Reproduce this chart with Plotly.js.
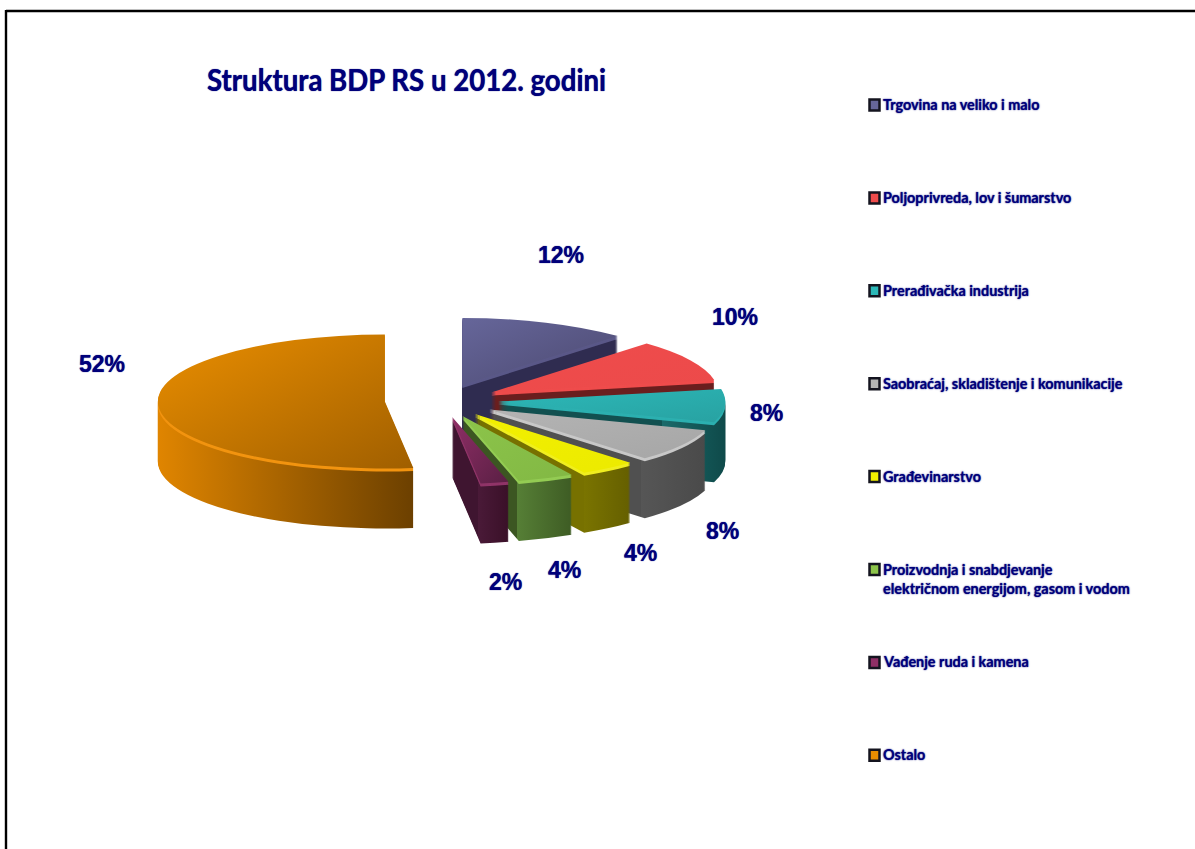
<!DOCTYPE html>
<html><head><meta charset="utf-8">
<script src="https://cdn.plot.ly/plotly-3.0.1.min.js"></script>
<style>html,body{margin:0;padding:0;background:#fff;overflow:hidden}#chart{width:1195px;height:849px}</style>
</head><body><div id="chart"></div>
<script>
var categories = ["Trgovina na veliko i malo","Poljoprivreda, lov i šumarstvo","Prerađivačka industrija","Saobraćaj, skladištenje i komunikacije","Građevinarstvo","Proizvodnja i snabdjevanje<br>električnom energijom, gasom i vodom","Vađenje ruda i kamena","Ostalo"];
var values = [12,10,8,8,4,4,2,52];
var topStart = ["#66669a","#ef4c4c","#2cb8b8","#b4b4b4","#f2f000","#8cc44a","#8f2f66","#ea8e00"];
var topEnd   = ["#4c4970","#ec4a4a","#28a2a2","#a6a6a6","#ecea00","#82b844","#5a1f44","#a05f00"];
var rimColor = ["#5a5888","#ef4c4c","#2cb0b0","#c8c8c8","#f0ee20","#94cc54","#903468","#f29410"];
// side walls: colour at the cut wall, position of the break, outer wall left and right colours
var wallCut   = ["#2f2c50","#6a1e1e","#125050","#505050","#777100","#3c5622","#3f1530","#e08500"];
var wallBreak = [1,1,0.72,0.7,0.7,0.5,0.45,0];
var wallLeft  = ["#2f2c50","#6a1e1e","#1a6a6a","#565656","#7a7400","#567f36","#4a1a38","#e08500"];
var wallRight = ["#2f2c50","#6a1e1e","#0f4a4a","#4a4a4a","#655f00","#3e5c24","#3a1028","#6c4000"];

var W = 1195, H = 849;
var cx = 441.5, cyScreen = 400.5, squash = 0.295;
var rx = 227, pull = 0.25, S = 2 * rx * (1 + pull);
var cyFlat = S / 2 + 6, depth = 60, rimLayers = 3;

function px(x){return x/W;} function py(y){return 1-y/H;}
var traces = [];
for (var k = depth; k >= 0; k--) {
  var cy = cyFlat + k / squash;
  traces.push({
    type:"pie", values:values, labels:categories, sort:false, direction:"clockwise", rotation:0,
    pull:values.map(function(){return pull;}), textinfo:"none", hoverinfo:"skip", showlegend:false,
    marker:{colors:k===0?topStart:(k<=rimLayers?rimColor:wallLeft), line:{width:0}},
    domain:{x:[px(cx-S/2),px(cx+S/2)], y:[py(cy+S/2),py(cy-S/2)]}
  });
}

var navy = "#00007a";
var labelXY = [[561,255],[735,317],[766,413],[722,531],[640,553],[564,570],[505,582],[102,364]];
var annotations = values.map(function(v,i){
  return {text:v+"%", xref:"paper", yref:"paper", x:px(labelXY[i][0]), y:py(labelXY[i][1]), showarrow:false,
    xanchor:"center", yanchor:"middle", font:{family:"Liberation Sans",size:23,color:navy,weight:700,shadow:"0 0 1px #00007a"}};
});
var shapes = [
  {type:"line",xref:"paper",yref:"paper",x0:px(6),x1:1,y0:py(11),y1:py(11),line:{color:"#000",width:2.4}},
  {type:"line",xref:"paper",yref:"paper",x0:px(6),x1:px(6),y0:py(10),y1:0,line:{color:"#000",width:2.4}}
];
var legendStart = 105, legendStep = 92.9;
categories.forEach(function(name,i){
  var y = legendStart + i*legendStep;
  annotations.push({text:name, xref:"paper", yref:"paper", x:px(881), y:py(y-11), showarrow:false, align:"left",
    xanchor:"left", yanchor:"top", font:{family:"Lato",size:14.4,color:navy,weight:700,shadow:"0 0 1.5px #00007a"}});
  shapes.push({type:"rect",xref:"paper",yref:"paper",x0:px(869.5),x1:px(879.5),y0:py(y-5.5),y1:py(y+5.5),
    fillcolor:topStart[i],line:{color:"#14141f",width:2.5}});
});

var layout = {
  width:W, height:H, margin:{l:0,r:0,t:0,b:0}, paper_bgcolor:"#fff", showlegend:false,
  title:{text:"Struktura BDP RS u 2012. godini", x:px(207), y:py(80), xanchor:"left", yanchor:"middle",
    font:{family:"Lato",size:30,color:navy,weight:700,shadow:"0 0 1px #00007a"}},
  annotations:annotations, shapes:shapes
};

function stop(g,o,c){var s=document.createElementNS("http://www.w3.org/2000/svg","stop");
  s.setAttribute("offset",o);s.setAttribute("stop-color",c);g.appendChild(s);}
function grad(defs,id,x2,y2,list){var g=document.createElementNS("http://www.w3.org/2000/svg","linearGradient");
  g.id=id;g.setAttribute("x1",0);g.setAttribute("y1",0);g.setAttribute("x2",x2);g.setAttribute("y2",y2);
  list.forEach(function(p){stop(g,p[0],p[1]);});defs.appendChild(g);}

Plotly.newPlot("chart",traces,layout,{displayModeBar:false,staticPlot:true}).then(function(gd){
  var defs = gd.querySelector("svg.main-svg defs");
  values.forEach(function(v,i){
    grad(defs,"top"+i,1,1,[[0,topStart[i]],[1,topEnd[i]]]);
    grad(defs,"wall"+i,1,0,[[0,wallCut[i]],[wallBreak[i],wallCut[i]],[wallBreak[i],wallLeft[i]],[1,wallRight[i]]]);
  });
  var layer = gd.querySelector(".pielayer");
  layer.setAttribute("transform","translate(0,"+cyScreen+") scale(1,"+squash+") translate(0,"+(-cyFlat)+")");
  layer.querySelectorAll(".trace").forEach(function(t,idx){
    var k = depth-idx;
    t.querySelectorAll("path.surface").forEach(function(p,i){
      if(k===0) p.style.fill="url(#top"+i+")";
      else if(k>rimLayers) p.style.fill="url(#wall"+i+")";
    });
  });
  var title = gd.querySelector(".gtitle");
  if(title){title.setAttribute("textLength",399);title.setAttribute("lengthAdjust","spacingAndGlyphs");}
});
</script></body></html>
